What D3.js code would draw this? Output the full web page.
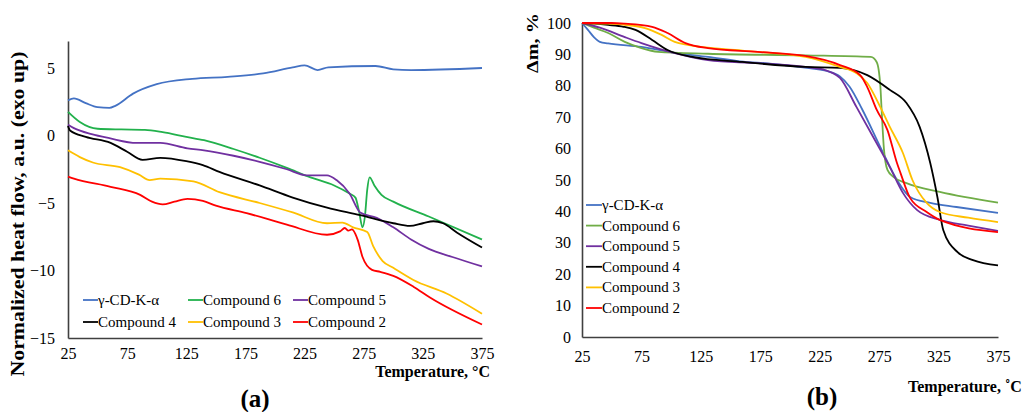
<!DOCTYPE html>
<html><head><meta charset="utf-8">
<script src="https://cdn.jsdelivr.net/npm/d3@7"></script>
<style>
body{margin:0;background:#fff;}
svg{display:block;font-family:"Liberation Serif","Times New Roman",serif;}
</style></head>
<body><svg id="c" width="1026" height="412"></svg>
<script>
// ---------- DATA ----------
const seriesNames = ["γ-CD-K-α","Compound 6","Compound 5","Compound 4","Compound 3","Compound 2"];
const xTicks = [25,75,125,175,225,275,325,375];
const yTicksA = [-15,-10,-5,0,5];
const yTicksB = [0,10,20,30,40,50,60,70,80,90,100];

// (a) DSC: [temperature, normalized heat flow]
const dscGamma = [[25,2.6],[30,2.75],[40,2.4],[50,2.1],[60,2.05],[65,2.2],[80,3.1],[100,3.8],[130,4.2],[160,4.35],[190,4.6],[215,5.05],[225,5.2],[236,4.85],[245,5.05],[285,5.15],[300,4.9],[315,4.85],[375,5.0]];
const dsc6 = [[25,1.75],[35,1.0],[50,0.5],[70,0.45],[90,0.42],[105,0.25],[125,-0.1],[140,-0.35],[165,-1.0],[187,-1.65],[210,-2.4],[230,-3.1],[250,-3.7],[263,-4.3],[268,-4.6],[271,-5.6],[274,-6.8],[276,-6.0],[278,-4.0],[280,-3.1],[284,-3.7],[290,-4.4],[300,-4.9],[330,-6.0],[375,-7.7]];
const dsc5 = [[25,0.8],[30,0.55],[45,0.1],[60,-0.2],[83,-0.55],[103,-0.55],[126,-0.95],[140,-1.1],[165,-1.5],[187,-1.95],[210,-2.5],[227,-2.95],[244,-2.95],[252,-3.3],[263,-4.3],[272,-5.7],[286,-6.1],[300,-6.8],[315,-7.7],[330,-8.4],[350,-9.0],[375,-9.7]];
const dsc4 = [[25,0.7],[27,0.35],[40,-0.1],[61,-0.55],[75,-1.2],[88,-1.8],[103,-1.65],[125,-1.9],[139,-2.2],[153,-2.7],[187,-3.7],[215,-4.6],[244,-5.35],[272,-5.9],[300,-6.5],[314,-6.7],[325,-6.5],[334,-6.35],[342,-6.5],[354,-7.2],[375,-8.3]];
const dsc3 = [[25,-1.1],[35,-1.6],[46,-2.0],[69,-2.35],[85,-2.9],[94,-3.3],[103,-3.2],[131,-3.4],[153,-4.2],[187,-5.0],[215,-5.7],[244,-6.5],[257,-6.45],[266,-6.8],[278,-7.15],[283,-8.2],[291,-9.3],[300,-9.8],[317,-10.7],[345,-11.7],[375,-13.2]];
const dsc2 = [[25,-3.05],[30,-3.2],[61,-3.8],[86,-4.4],[96,-4.9],[105,-5.1],[115,-4.9],[126,-4.7],[139,-4.85],[150,-5.2],[176,-5.75],[210,-6.6],[244,-7.35],[255,-7.1],[259,-6.85],[262,-7.05],[265,-6.95],[268,-7.3],[270,-7.75],[274,-9.0],[282,-9.95],[289,-10.1],[300,-10.4],[317,-11.2],[331,-12.0],[375,-14.0]];

// (b) TGA: [temperature, mass %]
const tgaGamma = [[25,100],[30,97.8],[35,95.5],[40,94],[47,93.5],[75,92.4],[103,90.5],[131,89.2],[158,87.8],[185,87],[214,85.7],[230,84.8],[242,83],[250,79.8],[261,72.3],[276,60.5],[290,50],[301,44.6],[318,42.7],[340,41.4],[375,39.5]];
const tga6 = [[25,100],[35,98.5],[47,96.8],[61,94],[75,92],[89,90.8],[131,90.2],[213,89.7],[268,89.2],[273,87.5],[276,80],[277,73],[279,60],[282,53.2],[287,51],[298,49],[326,46.2],[375,42.8]];
const tga5 = [[25,100],[40,98.5],[61,95.5],[75,93.6],[103,90.4],[131,88.2],[173,87.2],[213,86],[228,85.2],[242,82.5],[256,73.2],[270,63.7],[284,54.1],[295,45.9],[307,40.4],[326,37.3],[350,35.5],[375,33.8]];
const tga4 = [[25,100],[35,99.8],[47,99.4],[60,98.8],[70,97.8],[84,94.6],[97,91.4],[118,89.2],[160,87.6],[213,86],[242,85.7],[265,83.4],[284,78.7],[298,74.5],[309,67],[318,55.4],[324,44.6],[329,34],[341,27],[354,24.5],[375,22.8]];
const tga3 = [[25,100],[45,99.8],[61,99.4],[78,98.4],[92,96.2],[103,94],[114,93],[160,91.2],[213,89.2],[242,86],[256,84],[265,80.9],[276,73.2],[284,66.9],[295,58.6],[303,50],[315,42.7],[326,39.8],[350,38],[375,36.6]];
const tga2 = [[25,100],[50,100],[61,99.8],[84,98.8],[97,96.8],[112,93.6],[131,92],[173,90.8],[213,89.5],[242,86.6],[259,83.4],[265,79.6],[273,72.3],[282,65.9],[290,55.4],[293,52.2],[301,44.3],[315,39.8],[326,37.3],[375,33.4]];

// ---------- STYLE ----------
const colorsA = ["#4472C4","#22B14C","#7030A0","#000000","#FFC000","#FF0000"];
const colorsB = ["#4472C4","#70AD47","#7030A0","#000000","#FFC000","#FF0000"];

const svg = d3.select("#c");
const axisColor = "#404040";

function drawAxes(g, x, y, yTicks, yPad, xPad) {
  const xa = g.append("g").attr("transform", `translate(0,${y.range()[0]})`)
    .call(d3.axisBottom(x).tickValues(xTicks).tickSize(0).tickPadding(xPad));
  xa.select(".domain").attr("stroke", axisColor).attr("stroke-width", 1.6);
  xa.selectAll("text").attr("font-size", 16).attr("font-family", "Liberation Serif").attr("fill", "#000");
  const ya = g.append("g").attr("transform", `translate(${x.range()[0]},0)`)
    .call(d3.axisLeft(y).tickValues(yTicks).tickSize(0).tickPadding(yPad));
  ya.select(".domain").attr("stroke", axisColor).attr("stroke-width", 1.6);
  ya.selectAll("text").attr("font-size", 16).attr("font-family", "Liberation Serif").attr("fill", "#000");
}

// ---------- (a) ----------
{
  const x = d3.scaleLinear().domain([25,375]).range([68,482]);
  const y = d3.scaleLinear().domain([-15,7]).range([338,41]);
  const g = svg.append("g");
  drawAxes(g, x, y, yTicksA, 13, 10);
  const line = d3.line().x(d=>x(d[0])).y(d=>y(d[1])).curve(d3.curveMonotoneX);
  const data = [dscGamma, dsc6, dsc5, dsc4, dsc3, dsc2];
  data.forEach((s,i)=>{
    g.append("path").datum(s).attr("d", line).attr("fill","none")
      .attr("stroke", colorsA[i]).attr("stroke-width", 1.8);
  });
  seriesNames.forEach((n,i)=>{
    const col = i%3, row = Math.floor(i/3);
    const lx = 83 + col*105, ly = 300 + row*22;
    g.append("line").attr("x1",lx).attr("x2",lx+15).attr("y1",ly).attr("y2",ly)
      .attr("stroke",colorsA[i]).attr("stroke-width",1.8);
    g.append("text").attr("x",lx+15).attr("y",ly+5).attr("font-size",15).text(n);
  });
  g.append("text").attr("x",490).attr("y",377).attr("text-anchor","end")
    .attr("font-size",16).attr("font-weight","bold").text("Temperature, °C");
  g.append("text").attr("transform","translate(24,214) rotate(-90)").attr("text-anchor","middle")
    .attr("font-size",18).attr("font-weight","bold")
    .attr("textLength",325).attr("lengthAdjust","spacingAndGlyphs")
    .text("Normalized  heat flow, a.u. (exo up)");
  g.append("text").attr("x",255).attr("y",407).attr("text-anchor","middle")
    .attr("font-size",25).attr("font-weight","bold").text("(a)");
}

// ---------- (b) ----------
{
  const x = d3.scaleLinear().domain([25,375]).range([582,998]);
  const y = d3.scaleLinear().domain([0,100]).range([337,23]);
  const g = svg.append("g");
  drawAxes(g, x, y, yTicksB, 11, 14);
  const line = d3.line().x(d=>x(d[0])).y(d=>y(d[1])).curve(d3.curveMonotoneX);
  const data = [tgaGamma, tga6, tga5, tga4, tga3, tga2];
  data.forEach((s,i)=>{
    g.append("path").datum(s).attr("d", line).attr("fill","none")
      .attr("stroke", colorsB[i]).attr("stroke-width", 1.8);
  });
  seriesNames.forEach((n,i)=>{
    const lx = 586, ly = 205 + i*20.6;
    g.append("line").attr("x1",lx).attr("x2",lx+16).attr("y1",ly).attr("y2",ly)
      .attr("stroke",colorsB[i]).attr("stroke-width",1.8);
    g.append("text").attr("x",lx+16).attr("y",ly+5).attr("font-size",15).text(n);
  });
  g.append("text").attr("x",908).attr("y",392).attr("font-size",16)
    .attr("font-weight","bold").text("Temperature, ˚C");
  g.append("text").attr("transform","translate(538,43) rotate(-90)").attr("text-anchor","middle")
    .attr("font-size",16).attr("font-weight","bold")
    .attr("textLength",60).attr("lengthAdjust","spacingAndGlyphs")
    .text("Δm, %");
  g.append("text").attr("x",822).attr("y",405).attr("text-anchor","middle")
    .attr("font-size",25).attr("font-weight","bold").text("(b)");
}
</script></body></html>
